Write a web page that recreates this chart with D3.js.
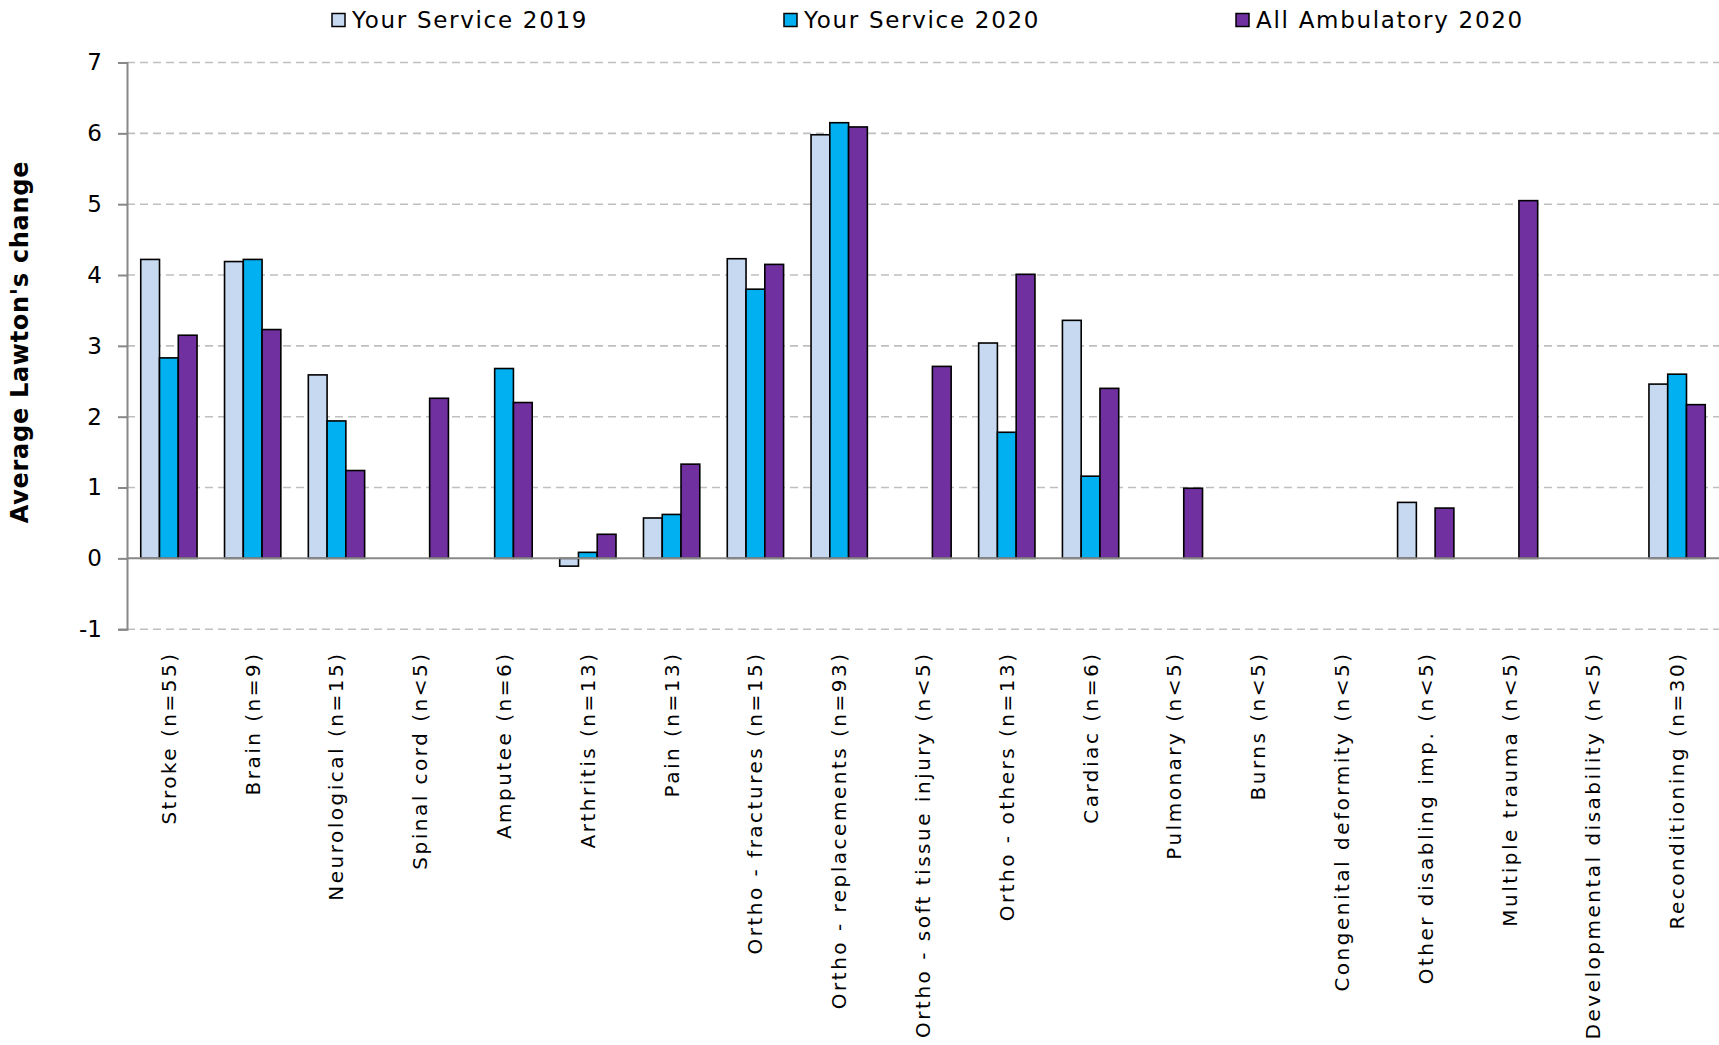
<!DOCTYPE html>
<html>
<head>
<meta charset="utf-8">
<script src="https://cdn.jsdelivr.net/npm/d3@7"></script>
<style>
  html, body { margin: 0; padding: 0; background: #fff; }
  svg { display: block; }
</style>
</head>
<body>
<svg id="chart" width="1719" height="1045"></svg>
<script>
const categories = [
  "Stroke (n=55)", "Brain  (n=9)", "Neurological (n=15)", "Spinal cord (n<5)",
  "Amputee (n=6)", "Arthritis (n=13)", "Pain (n=13)", "Ortho - fractures (n=15)",
  "Ortho - replacements (n=93)", "Ortho - soft tissue injury (n<5)", "Ortho - others (n=13)",
  "Cardiac (n=6)", "Pulmonary (n<5)", "Burns (n<5)", "Congenital deformity (n<5)",
  "Other disabling imp. (n<5)", "Multiple trauma (n<5)", "Developmental disability (n<5)",
  "Reconditioning (n=30)"
];
const seriesNames = ["Your Service 2019", "Your Service 2020", "All Ambulatory 2020"];
const service2019 = [4.22, 4.19, 2.59, null, null, -0.11, 0.57, 4.23, 5.98, null, 3.04, 3.36, null, null, null, 0.79, null, null, 2.46];
const service2020 = [2.83, 4.22, 1.94, null, 2.68, 0.085, 0.62, 3.80, 6.15, null, 1.78, 1.16, null, null, null, null, null, null, 2.60];
const allAmbulatory2020 = [3.15, 3.23, 1.24, 2.26, 2.20, 0.34, 1.33, 4.15, 6.09, 2.71, 4.01, 2.40, 0.99, null, null, 0.71, 5.05, null, 2.17];
const yTicks = [-1, 0, 1, 2, 3, 4, 5, 6, 7];
const colors = ["#c6d9f1", "#00b0f0", "#7030a0"];
const yTitle = "Average Lawton's change";

const seriesValues = [service2019, service2020, allAmbulatory2020];

const svg = d3.select("#chart");
const plotLeft = 127, plotRight = 1719, plotTop = 62.5, plotBottom = 629.2;

const x0 = d3.scaleBand().domain(categories).range([plotLeft, plotRight]).paddingInner(0.328).paddingOuter(0.164);
const x1 = d3.scaleBand().domain(seriesNames).range([0, x0.bandwidth()]);
const y = d3.scaleLinear().domain([-1, 7]).range([plotBottom, plotTop]);

// gridlines
svg.append("g").selectAll("line").data(yTicks.filter(d => d !== 0)).join("line")
  .attr("x1", plotLeft).attr("x2", plotRight)
  .attr("y1", d => y(d)).attr("y2", d => y(d))
  .attr("stroke", "#bfbfbf").attr("stroke-width", 1.6).attr("stroke-dasharray", "8,5");

// y axis
const yAxis = d3.axisLeft(y).tickValues(yTicks).tickSize(9).tickPadding(16).tickFormat(d => String(d));
const ga = svg.append("g").attr("transform", `translate(${plotLeft},0)`).call(yAxis);
ga.select(".domain").attr("stroke", "#888").attr("stroke-width", 2);
ga.selectAll(".tick line").attr("stroke", "#888").attr("stroke-width", 2);
ga.selectAll(".tick text").attr("font-family", "DejaVu Sans").attr("font-size", 23).attr("fill", "#000");

// bars
const groups = svg.append("g").selectAll("g").data(categories).join("g")
  .attr("transform", d => `translate(${x0(d)},0)`);
groups.selectAll("rect")
  .data((c, i) => seriesNames.map((s, k) => ({ s, k, v: seriesValues[k][i] })).filter(d => d.v !== null))
  .join("rect")
  .attr("x", d => x1(d.s))
  .attr("width", x1.bandwidth())
  .attr("y", d => y(Math.max(0, d.v)))
  .attr("height", d => Math.abs(y(d.v) - y(0)))
  .attr("fill", d => colors[d.k])
  .attr("stroke", "#000").attr("stroke-width", 1.6);

// zero line
svg.append("line").attr("x1", plotLeft).attr("x2", plotRight).attr("y1", y(0)).attr("y2", y(0))
  .attr("stroke", "#888").attr("stroke-width", 2);

// x axis labels
const xAxis = d3.axisBottom(x0).tickSize(0).tickPadding(0);
const gx = svg.append("g").attr("transform", `translate(0,${y(0)})`).call(xAxis);
gx.select(".domain").remove();
gx.selectAll(".tick text")
  .attr("font-family", "DejaVu Sans").attr("font-size", 20).attr("letter-spacing", "2.5px").attr("fill", "#000")
  .attr("text-anchor", "end")
  .attr("transform", `translate(0,${649 + 2.5 - y(0)}) rotate(-90)`)
  .attr("x", 0).attr("y", 0).attr("dy", "0.35em");

// y title
svg.append("text")
  .attr("transform", `translate(28,342) rotate(-90)`)
  .attr("text-anchor", "middle")
  .attr("font-family", "DejaVu Sans").attr("font-weight", "bold").attr("font-size", 24).attr("letter-spacing", "0.7px")
  .text(yTitle);

// legend
const legendX = [332, 784, 1236];
const lg = svg.append("g").selectAll("g").data(seriesNames).join("g")
  .attr("transform", (d, i) => `translate(${legendX[i]},20)`);
lg.append("rect").attr("x", 0).attr("y", -6.5).attr("width", 13).attr("height", 13)
  .attr("fill", (d, i) => colors[i]).attr("stroke", "#000").attr("stroke-width", 1.5);
lg.append("text").attr("x", 20).attr("y", 0).attr("dy", "0.36em")
  .attr("font-family", "DejaVu Sans").attr("font-size", 23).attr("letter-spacing", "1.7px")
  .text(d => d);
</script>
</body>
</html>
